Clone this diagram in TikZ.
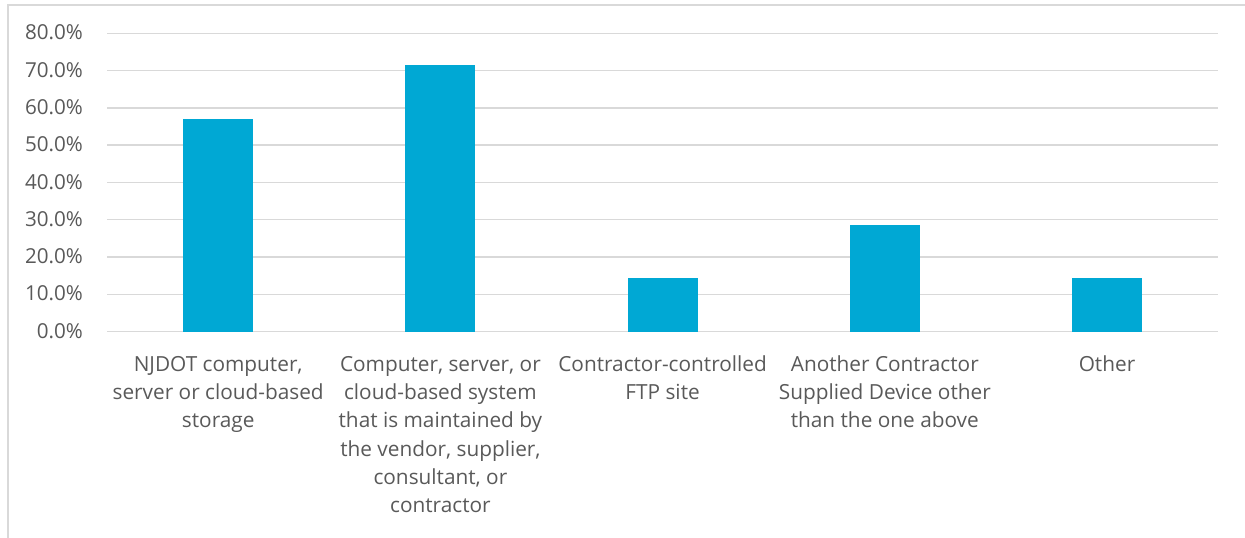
\documentclass[tikz,border=0pt]{standalone}
\usepackage{fontspec}
\setmainfont{Open Sans}
\usetikzlibrary{calc}

\definecolor{barblue}{HTML}{00A8D4}
\definecolor{gridgray}{HTML}{D9D9D9}
\definecolor{labelgray}{HTML}{595959}

\begin{document}
\begin{tikzpicture}[x=1pt,y=1pt,
      gridline/.style={gridgray,line width=1.4pt},
      ticklabel/.style={anchor=base east,inner sep=0pt,text=labelgray,
                        font=\fontsize{20.6}{28.3}\selectfont},
      catlabel/.style={anchor=north,inner sep=0pt,align=center,text=labelgray,
                       font=\fontsize{20.8}{28.3}\selectfont}]
               \useasboundingbox (0,0) rectangle (1245,538);
               % chart frame (left and top edges)
               \draw[gridgray,line width=1.4pt] (8,0) -- (8,533) -- (1245,533);
               % gridlines and axis labels
               \foreach \i in {0,...,8}{
                  \pgfmathtruncatemacro{\pct}{10*\i}
                  \draw[gridline] (107,206.3+37.3*\i) -- (1218,206.3+37.3*\i);
                  \node[ticklabel] (tick\i) at (83,199.7+37.3*\i) {\pct.0\%};
               }
               % bars
               \foreach \x/\v in {218.2/57.14, 440.4/71.43, 662.6/14.29, 884.8/28.57, 1107/14.29}
                  \fill[barblue] (\x-35,206.3) rectangle (\x+35,206.3+3.73*\v);
               % category labels
               \node[catlabel] (cat1) at (218.2,186.8) {\strut NJDOT computer,\\server or cloud-based\\storage};
               \node[catlabel] (cat2) at (440.4,186.8) {\strut Computer, server, or\\cloud-based system\\that is maintained by\\the vendor, supplier,\\consultant, or\\contractor};
               \node[catlabel] (cat3) at (662.6,186.8) {\strut Contractor-controlled\\FTP site};
               \node[catlabel] (cat4) at (884.8,186.8) {\strut Another Contractor\\Supplied Device other\\than the one above};
               \node[catlabel] (cat5) at (1107,186.8) {\strut Other};
\end{tikzpicture}
\end{document}
